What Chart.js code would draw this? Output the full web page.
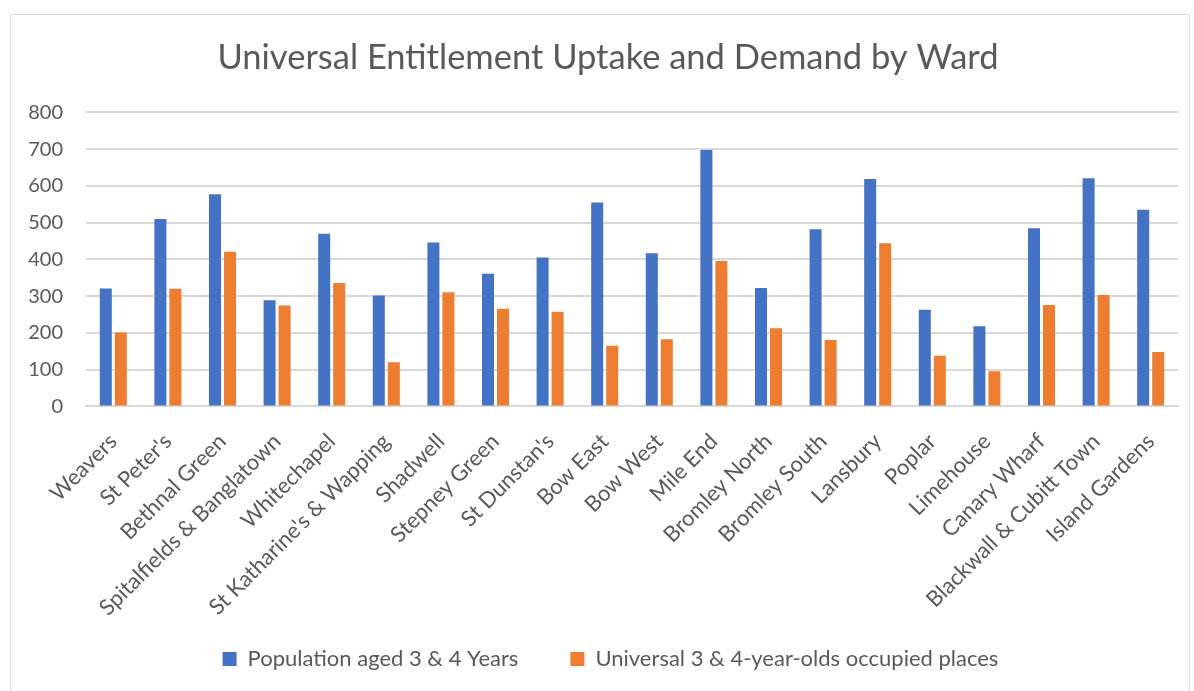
<!DOCTYPE html>
<html>
  <head>
    <meta charset="utf-8">
    <title>Universal Entitlement Uptake and Demand by Ward</title>
    <script src="https://cdn.jsdelivr.net/npm/chart.js@4.4.0/dist/chart.umd.min.js"></script>
    <style>
      html, body { margin: 0; padding: 0; background: #fff; }
      #box {
        position: absolute;
        left: 10px; top: 14px;
        width: 1180px; height: 680px;
        border: 1px solid #d9d9d9;
        box-sizing: border-box;
      }
    </style>
  </head>
  <body>
    <div id="box"><canvas id="myChart"></canvas></div>

    <script>
      // wards
      const wards = ["Weavers", "St Peter's", "Bethnal Green", "Spitalfields & Banglatown", "Whitechapel",
        "St Katharine's & Wapping", "Shadwell", "Stepney Green", "St Dunstan's", "Bow East", "Bow West",
        "Mile End", "Bromley North", "Bromley South", "Lansbury", "Poplar", "Limehouse", "Canary Wharf",
        "Blackwall & Cubitt Town", "Island Gardens"];

      const population = [321, 510, 577, 289, 470, 302, 446, 361, 405, 555, 417, 698, 322, 482, 619, 263, 218, 485, 621, 535];
      const occupied = [201, 320, 421, 275, 336, 120, 311, 266, 258, 165, 183, 396, 213, 181, 444, 138, 96, 276, 303, 148];

      const yTicks = [0, 100, 200, 300, 400, 500, 600, 700, 800];

      const grey = '#595959';
      const fontFamily = 'Lato, "Open Sans", sans-serif';

      // wide gap between the two legend entries while keeping the row tucked
      // up under the ward names; title sits a little right of centre
      const boxNudge = {
        id: 'boxNudge',
        afterLayout(chart) {
          const lg = chart.legend;
          lg.top -= 39;
          lg.left += 16; lg.right += 16;
          const tb = chart.titleBlock;
          tb.left += 13.5; tb.right += 13.5;
        }
      };

      var ctx = document.getElementById('myChart').getContext('2d');
      var myChart = new Chart(ctx, {
        type: 'bar',
        data: {
          labels: wards,
          datasets: [{
            label: 'Population aged 3 & 4 Years',
            data: population,
            backgroundColor: '#4472C4'
          }, {
            label: 'Universal 3 & 4-year-olds occupied places',
            data: occupied,
            backgroundColor: '#ED7D31'
          }]
        },
        plugins: [boxNudge],
        options: {
          responsive: true,
          maintainAspectRatio: false,
          animation: false,
          datasets: {
            bar: { categoryPercentage: 0.55, barPercentage: 0.8 }
          },
          layout: { padding: { left: 0, right: 11, top: 0, bottom: 0 } },
          plugins: {
            title: {
              display: true,
              text: 'Universal Entitlement Uptake and Demand by Ward',
              color: grey,
              font: { family: fontFamily, size: 34.5, weight: 'normal' },
              padding: { top: 22, bottom: 34 }
            },
            legend: {
              position: 'bottom',
              maxHeight: 58,
              labels: {
                color: grey,
                font: { family: fontFamily, size: 22 },
                boxWidth: 14,
                boxHeight: 14,
                padding: 52
              }
            },
            tooltip: { enabled: false }
          },
          scales: {
            x: {
              grid: { display: false },
              border: { color: '#d9d9d9', width: 2 },
              ticks: {
                color: grey,
                font: { family: fontFamily, size: 22 },
                padding: 14,
                minRotation: 45,
                maxRotation: 45,
                autoSkip: false
              }
            },
            y: {
              min: yTicks[0],
              max: yTicks[yTicks.length - 1],
              afterBuildTicks: axis => { axis.ticks = yTicks.map(v => ({ value: v })); },
              afterFit: axis => { axis.width = 75; },
              grid: { color: '#d9d9d9', lineWidth: 2, drawTicks: false },
              border: { display: false },
              ticks: {
                color: grey,
                font: { family: fontFamily, size: 20 },
                padding: 23
              }
            }
          }
        }
      });
    </script>
  </body>
</html>
